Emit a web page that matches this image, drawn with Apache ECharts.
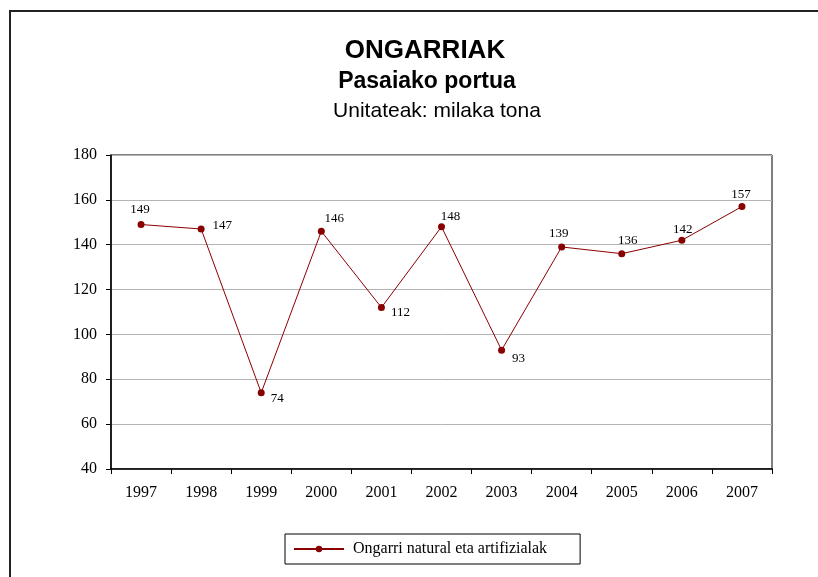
<!DOCTYPE html>
<html>
<head>
<meta charset="utf-8">
<script src="https://cdn.jsdelivr.net/npm/echarts@6/dist/echarts.min.js"></script>
<style>
  html, body { margin: 0; padding: 0; background: #fff; }
  #main { width: 818px; height: 577px; }
</style>
</head>
<body>
<div id="main"></div>
<script>
// datuak
var years = ['1997', '1998', '1999', '2000', '2001', '2002', '2003', '2004', '2005', '2006', '2007'];
var values = [149, 147, 74, 146, 112, 148, 93, 139, 136, 142, 157];
var seriesName = 'Ongarri natural eta artifizialak';

// etiketen kokapena puntu bakoitzeko (px)
var labelOffsets = [
  [-1, -1.5], [21, 9.5], [16, 19], [13, 0], [19, 18], [9, 2.5], [17, 21], [-3, 0], [6, 0], [1, 2.5], [-1, 1]
];

var chart = echarts.init(document.getElementById('main'));

var points = values.map(function (v, i) {
  return {
    value: v,
    label: { offset: labelOffsets[i] }
  };
});

var option = {
  animation: false,
  backgroundColor: '#fff',
  title: [
    {
      text: 'ONGARRIAK',
      left: 420, top: 33, textAlign: 'center',
      textStyle: { fontFamily: 'Liberation Sans', fontSize: 26, fontWeight: 'bold', color: '#000' }
    },
    {
      text: 'Pasaiako portua',
      left: 422, top: 65, textAlign: 'center',
      textStyle: { fontFamily: 'Liberation Sans', fontSize: 23, fontWeight: 'bold', color: '#000' }
    },
    {
      text: 'Unitateak: milaka tona',
      left: 432, top: 96, textAlign: 'center',
      textStyle: { fontFamily: 'Liberation Sans', fontSize: 21, fontWeight: 'normal', color: '#000' }
    }
  ],
  graphic: [
    {
      type: 'rect',
      shape: { x: 10, y: 11, width: 900, height: 700 },
      style: { fill: 'none', stroke: '#222', lineWidth: 2 },
      silent: true
    }
  ],
  legend: {
    left: 285, top: 534,
    padding: [7, 33, 7, 8],
    borderColor: '#000',
    borderWidth: 1,
    itemWidth: 50,
    itemHeight: 8,
    itemGap: 10,
    textStyle: { fontFamily: 'Liberation Serif', fontSize: 16, color: '#000', padding: [0, 0, 0, 4] },
    data: [seriesName]
  },
  grid: {
    left: 111, right: 46, top: 155, bottom: 108,
    show: true,
    borderColor: '#000',
    borderWidth: 1
  },
  xAxis: {
    type: 'category',
    data: years,
    boundaryGap: true,
    axisLine: { lineStyle: { color: '#000', width: 1.5 } },
    axisTick: { show: true, inside: false, length: 5, alignWithLabel: false, lineStyle: { color: '#000' } },
    axisLabel: { fontFamily: 'Liberation Serif', fontSize: 16, color: '#000', margin: 16 },
    splitLine: { show: false }
  },
  yAxis: {
    type: 'value',
    min: 40, max: 180, interval: 20,
    axisLine: { show: true, lineStyle: { color: '#000', width: 1.5 } },
    axisTick: { show: true, inside: false, length: 5, lineStyle: { color: '#000' } },
    axisLabel: { fontFamily: 'Liberation Serif', fontSize: 16, color: '#000', margin: 14 },
    splitLine: { show: true, lineStyle: { color: '#b4b4b4', width: 1 } }
  },
  series: [
    {
      name: seriesName,
      type: 'line',
      data: points,
      symbol: 'circle',
      symbolSize: 7,
      color: '#880000',
      lineStyle: { color: '#8b0000', width: 1 },
      itemStyle: { color: '#880000' },
      label: {
        show: true,
        position: 'top',
        distance: 3,
        fontFamily: 'Liberation Serif',
        fontSize: 13,
        color: '#000'
      }
    }
  ]
};

chart.setOption(option);
</script>
</body>
</html>
